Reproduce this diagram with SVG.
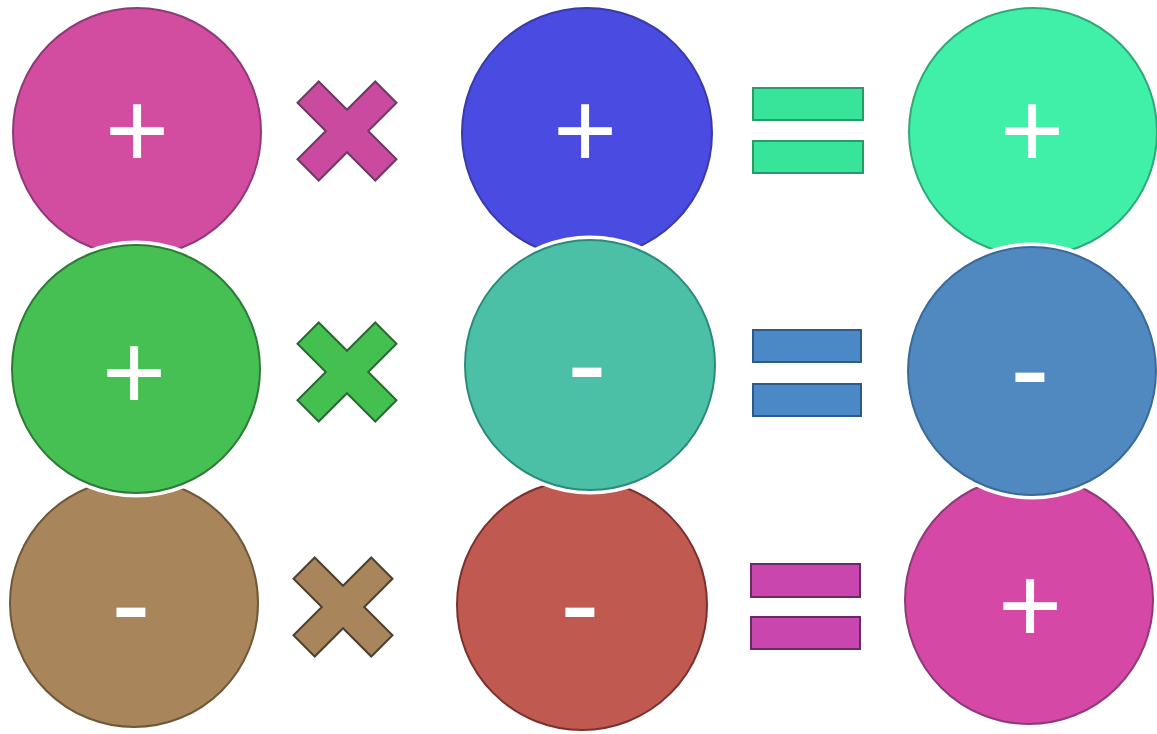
<svg xmlns="http://www.w3.org/2000/svg" width="1157" height="734" viewBox="0 0 1157 734">
<defs>
<style>
.sign{fill:#ffffff;font-family:"Liberation Sans",Arial,sans-serif;text-anchor:middle}
.plus{font-size:110px}
.minus{font-size:118px}
.halo{fill:#ffffff;stroke:#ffffff;stroke-width:9}
.ring{stroke-width:2}
</style>
<path id="cross" d="M-15,-55 L15,-55 L15,-15 L55,-15 L55,15 L15,15 L15,55 L-15,55 L-15,15 L-55,15 L-55,-15 L-15,-15 Z"/>
</defs>
<rect width="1157" height="734" fill="#ffffff"/>

<!-- row 1 -->
<g id="r1c1">
<circle class="ring" cx="137" cy="132" r="124" fill="#d24c9f" stroke="#8e3a78"/>
<text class="sign plus" x="137" y="168">+</text>
</g>
<g id="r1times">
<use href="#cross" transform="translate(347,131) rotate(45)" fill="#c94a9e" stroke="#6e3a62" stroke-width="2"/>
</g>
<g id="r1c2">
<circle class="ring" cx="587" cy="133" r="125" fill="#4a4be0" stroke="#3a3aa8"/>
<text class="sign plus" x="585" y="168">+</text>
</g>
<g id="r1eq">
<rect x="753" y="88" width="110" height="32" fill="#38e39a" stroke="#2a9a6a" stroke-width="2"/>
<rect x="753" y="141" width="110" height="32" fill="#38e39a" stroke="#2a9a6a" stroke-width="2"/>
</g>
<g id="r1c3">
<circle class="ring" cx="1033" cy="132" r="124" fill="#40f0a8" stroke="#30a878"/>
<text class="sign plus" x="1032" y="168">+</text>
</g>

<!-- row 3 -->
<g id="r3c1">
<circle class="ring" cx="134" cy="603" r="124" fill="#a8855a" stroke="#6e5838"/>
<text class="sign minus" x="131" y="644">-</text>
</g>
<g id="r3times">
<use href="#cross" transform="translate(343,607) rotate(45)" fill="#a8855a" stroke="#4e4030" stroke-width="2"/>
</g>
<g id="r3c2">
<circle class="ring" cx="582" cy="605" r="125" fill="#c05a50" stroke="#7a3030"/>
<text class="sign minus" x="580" y="644">-</text>
</g>
<g id="r3eq">
<rect x="751" y="564" width="109" height="33" fill="#c846ae" stroke="#6a2a6a" stroke-width="2"/>
<rect x="751" y="617" width="109" height="32" fill="#c846ae" stroke="#6a2a6a" stroke-width="2"/>
</g>
<g id="r3c3">
<circle class="ring" cx="1029" cy="600" r="124" fill="#d548a6" stroke="#8e3a78"/>
<text class="sign plus" x="1030" y="643">+</text>
</g>

<!-- row 2 (on top) -->
<g id="r2c1">
<circle class="halo" cx="136" cy="369" r="124"/>
<circle class="ring" cx="136" cy="369" r="124" fill="#46c052" stroke="#2e7a38"/>
<text class="sign plus" x="134" y="410">+</text>
</g>
<g id="r2times">
<use href="#cross" transform="translate(347,372) rotate(45)" fill="#44c050" stroke="#2a6a32" stroke-width="2"/>
</g>
<g id="r2c2">
<circle class="halo" cx="590" cy="365" r="125"/>
<circle class="ring" cx="590" cy="365" r="125" fill="#4cc0a6" stroke="#2e8a78"/>
<text class="sign minus" x="587" y="404">-</text>
</g>
<g id="r2eq">
<rect x="753" y="330" width="108" height="32" fill="#4a88c6" stroke="#2e5a8a" stroke-width="2"/>
<rect x="753" y="384" width="108" height="32" fill="#4a88c6" stroke="#2e5a8a" stroke-width="2"/>
</g>
<g id="r2c3">
<circle class="halo" cx="1032" cy="371" r="124"/>
<circle class="ring" cx="1032" cy="371" r="124" fill="#5088c0" stroke="#3a6a9a"/>
<text class="sign minus" x="1030" y="409">-</text>
</g>

<g id="connectors"></g>
</svg>
